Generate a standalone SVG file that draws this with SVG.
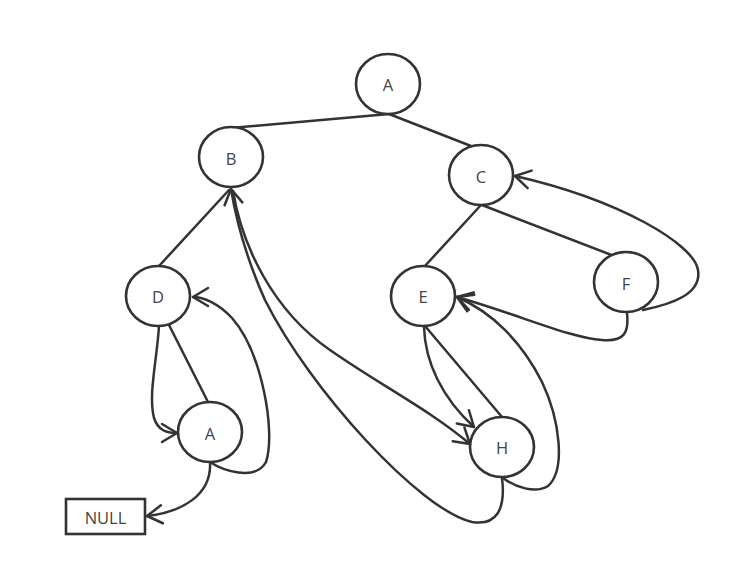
<svg xmlns="http://www.w3.org/2000/svg" width="740" height="587" viewBox="0 0 740 587">
<style>
.n{fill:#fff;stroke:#333;stroke-width:2.6}
.t{font-family:"Open Sans","Liberation Sans",sans-serif;font-size:16.5px;fill:#444;text-anchor:middle;dominant-baseline:central}
.e{fill:none;stroke:#333;stroke-width:2.5;stroke-linecap:round}
</style>
<defs>
<marker id="arr" viewBox="-20 -12 24 24" refX="0" refY="0" markerWidth="24" markerHeight="24" markerUnits="userSpaceOnUse" orient="auto">
<path d="M-15,-9 L0,0 L-15,9" fill="none" stroke="#333" stroke-width="2.5" stroke-linecap="round" stroke-linejoin="round"/>
</marker>
</defs>
<rect width="740" height="587" fill="#fff"/>
<g id="connectors">
<path class="e" d="M389,114 L231,128"/>
<path class="e" d="M389,114 L471,146"/>
<path class="e" d="M159,266 L229,190"/>
<path class="e" d="M169,325 L208,402"/>
<path class="e" d="M481,205 L424,267"/>
<path class="e" d="M482,205 L614,256"/>
<path class="e" d="M425,326 L502,417"/>
<path class="e" marker-end="url(#arr)" d="M159,326 C157,360 148,395 154,418 C158,430 166,433 177,433"/>
<path class="e" marker-end="url(#arr)" d="M210,462 C222,470 255,482 266,462 C276,432 262,352 232,318 C218,303 203,297 193,297"/>
<path class="e" marker-end="url(#arr)" d="M210,462 C212,495 182,512 147,516"/>
<path class="e" marker-end="url(#arr)" d="M233,191 C242,245 272,310 330,350 C380,385 430,410 470,444"/>
<path class="e" marker-end="url(#arr)" d="M502,478 C506,510 496,526 472,522 C420,510 310,390 265,300 C248,262 237,225 231,189"/>
<path class="e" marker-end="url(#arr)" d="M424,327 C425,362 442,398 474,427"/>
<path class="e" marker-end="url(#arr)" d="M503,478 C515,487 535,494 548,486 C566,470 560,420 542,382 C522,342 492,312 457,297"/>
<path class="e" marker-end="url(#arr)" d="M627,313 C629,332 625,342 602,340 C570,338 520,315 457,297"/>
<path class="e" marker-end="url(#arr)" d="M643,310 C672,304 702,294 698,270 C694,244 620,200 515,176"/>
</g>
<g id="nodeA1"><ellipse class="n" cx="388" cy="84" rx="32" ry="30"/><text class="t" x="388" y="84">A</text></g>
<g id="nodeB"><ellipse class="n" cx="231" cy="157" rx="32" ry="30"/><text class="t" x="231" y="158">B</text></g>
<g id="nodeC"><ellipse class="n" cx="481" cy="175" rx="32" ry="30"/><text class="t" x="481" y="176">C</text></g>
<g id="nodeD"><ellipse class="n" cx="158" cy="296" rx="32" ry="30"/><text class="t" x="158" y="296">D</text></g>
<g id="nodeA2"><ellipse class="n" cx="210" cy="432" rx="32" ry="30"/><text class="t" x="210" y="433">A</text></g>
<g id="nodeE"><ellipse class="n" cx="423" cy="296" rx="32" ry="30"/><text class="t" x="423" y="296">E</text></g>
<g id="nodeF"><ellipse class="n" cx="626" cy="282" rx="32" ry="30"/><text class="t" x="626" y="283">F</text></g>
<g id="nodeH"><ellipse class="n" cx="502" cy="447" rx="32" ry="30"/><text class="t" x="502" y="447">H</text></g>
<g id="nodeNULL"><rect class="n" x="66" y="499" width="79" height="35"/><text class="t" x="105.5" y="517">NULL</text></g>
</svg>
